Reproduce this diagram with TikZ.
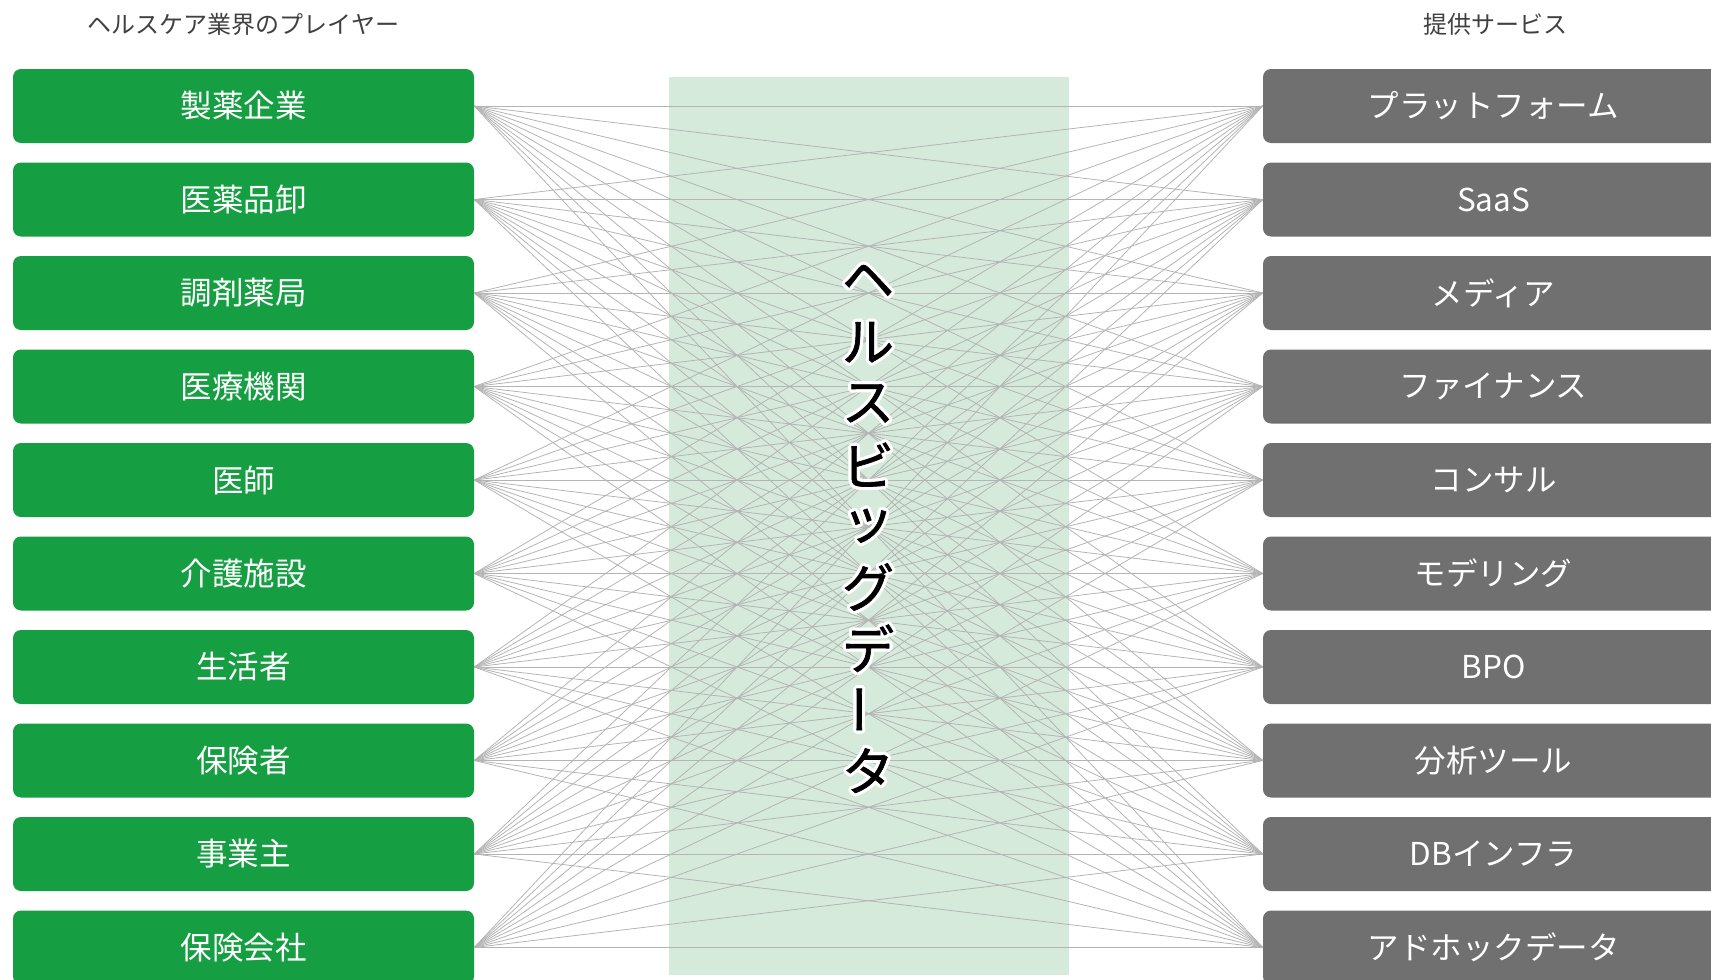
\documentclass[tikz,border=0pt]{standalone}
\usepackage{fontspec}
\setmainfont{Noto Sans CJK JP}
\newfontfamily\titlefont[FakeBold=1.3]{Noto Sans CJK JP}

\newcommand{\boxW}{461pt}
\newcommand{\boxH}{74pt}
\newcommand{\rowGap}{93.5}
\newcommand{\firstRowY}{106}
\newcommand{\playerX}{243.5}
\newcommand{\serviceX}{1493.5}
\newcommand{\bandX}{868}
\newcommand{\bandTopY}{281}
\newcommand{\bandStep}{61.2}
\newcommand{\haloR}{3.2}

\definecolor{playerGreen}{HTML}{169E43}
\definecolor{serviceGray}{HTML}{707070}
\definecolor{bandGreen}{HTML}{D5EADB}
\definecolor{linkGray}{HTML}{B4B4B4}
\definecolor{headGray}{HTML}{404040}

\tikzset{
  player/.style={fill=playerGreen, rounded corners=8pt, minimum width=\boxW, minimum height=\boxH,
    inner sep=0pt, text=white, font=\fontsize{31.5}{36}\selectfont},
  service/.style={player, fill=serviceGray},
  header/.style={text=headGray, inner sep=0pt, font=\fontsize{24}{28}\selectfont},
  link/.style={draw=linkGray, line width=0.8pt},
  bigword/.style={inner sep=0pt, font=\titlefont\fontsize{52}{58}\selectfont}
}

\begin{document}
\begin{tikzpicture}[x=1pt,y=-1pt]
        \useasboundingbox (0,0) rectangle (1711,980);

        % Background band
        \fill[bandGreen] (669,77) rectangle (1069,975);

        % Headers
        \node[header] (playerHead) at (\playerX,24) {ヘルスケア業界のプレイヤー};
        \node[header] (serviceHead) at (1495,24) {提供サービス};

        % Players
        \foreach \name [count=\i] in {製薬企業,医薬品卸,調剤薬局,医療機関,医師,介護施設,生活者,保険者,事業主,保険会社}
            \node[player] (L\i) at (\playerX,{\firstRowY+(\i-1)*\rowGap}) {\name};

        % Services
        \foreach \name [count=\i] in {プラットフォーム,SaaS,メディア,ファイナンス,コンサル,モデリング,BPO,分析ツール,DBインフラ,アドホックデータ}
            \node[service] (R\i) at (\serviceX,{\firstRowY+(\i-1)*\rowGap}) {\name};

        % Draw all links
        \foreach \i in {1,...,10}
            \foreach \j in {1,...,10}
                \draw[link] (L\i.east) -- (R\j.west);

        % Vertical title with white halo
        \foreach \ch/\rot [count=\k] in {ヘ/0,ル/0,ス/0,ビ/0,ッ/0,グ/0,デ/0,ー/90,タ/0}{
            \foreach \a in {0,30,...,330}
                \node[bigword, text=white, rotate=\rot] at ({\bandX+\haloR*cos(\a)},{\bandTopY+(\k-1)*\bandStep+\haloR*sin(\a)}) {\ch};
            \node[bigword, rotate=\rot] (V\k) at (\bandX,{\bandTopY+(\k-1)*\bandStep}) {\ch};
        }
    \end{tikzpicture}
\end{document}
